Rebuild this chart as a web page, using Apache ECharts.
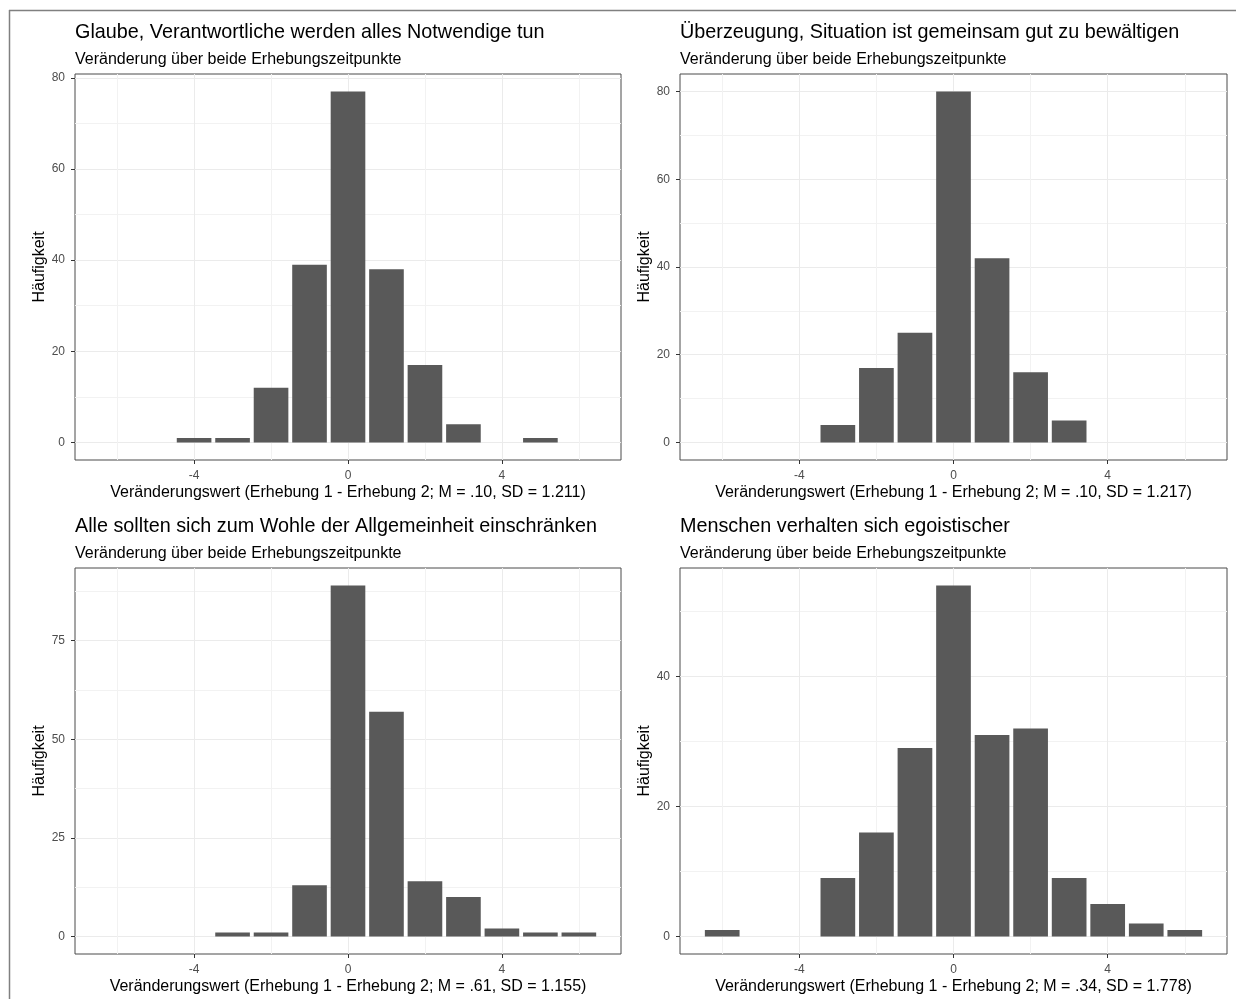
<!DOCTYPE html>
<html><head><meta charset="utf-8">
<script src="https://cdn.jsdelivr.net/npm/echarts@6/dist/echarts.min.js"></script>
<style>html,body{margin:0;padding:0;background:#fff}#chart{width:1236px;height:999px}</style>
</head><body><div id="chart"></div>
<script>
// ---- data ----
const changeValues = [-6, -5, -4, -3, -2, -1, 0, 1, 2, 3, 4, 5, 6];
const countsGlaube = [0, 0, 1, 1, 12, 39, 77, 38, 17, 4, 0, 1, 0];
const countsUeberzeugung = [0, 0, 0, 4, 17, 25, 80, 42, 16, 5, 0, 0, 0];
const countsAllgemeinheit = [0, 0, 0, 1, 1, 13, 89, 57, 14, 10, 2, 1, 1];
const countsEgoistisch = [1, 0, 0, 9, 16, 29, 54, 31, 32, 9, 5, 2, 1];

const panelTitles = [
  'Glaube, Verantwortliche werden alles Notwendige tun',
  'Überzeugung, Situation ist gemeinsam gut zu bewältigen',
  'Alle sollten sich zum Wohle der Allgemeinheit einschränken',
  'Menschen verhalten sich egoistischer'
];
const subtitleText = 'Veränderung über beide Erhebungszeitpunkte';
const xAxisTitles = [
  'Veränderungswert (Erhebung 1 - Erhebung 2; M = .10, SD = 1.211)',
  'Veränderungswert (Erhebung 1 - Erhebung 2; M = .10, SD = 1.217)',
  'Veränderungswert (Erhebung 1 - Erhebung 2; M = .61, SD = 1.155)',
  'Veränderungswert (Erhebung 1 - Erhebung 2; M = .34, SD = 1.778)'
];
const yAxisTitle = 'Häufigkeit';
const xMajorTicks = [-4, 0, 4];
const xMinorTicks = [-6, -2, 2, 6];
const yMajorTicks1 = [0, 20, 40, 60, 80];
const yMinorTicks1 = [10, 30, 50, 70];
const yMajorTicks2 = [0, 20, 40, 60, 80];
const yMinorTicks2 = [10, 30, 50, 70];
const yMajorTicks3 = [0, 25, 50, 75];
const yMinorTicks3 = [12.5, 37.5, 62.5, 87.5];
const yMajorTicks4 = [0, 20, 40];
const yMinorTicks4 = [10, 30, 50];

// ---- layout ----
const FONT = '"Liberation Sans", Arial, Helvetica, sans-serif';
const panels = [
  {left: 75, top: 74, width: 546, height: 386},
  {left: 680, top: 74, width: 547, height: 386},
  {left: 75, top: 568, width: 546, height: 386},
  {left: 680, top: 568, width: 547, height: 386}
];
const countsList = [countsGlaube, countsUeberzeugung, countsAllgemeinheit, countsEgoistisch];
const yMajorList = [yMajorTicks1, yMajorTicks2, yMajorTicks3, yMajorTicks4];
const yMinorList = [yMinorTicks1, yMinorTicks2, yMinorTicks3, yMinorTicks4];

const barHalf = 0.45;
const xLo = Math.min(...changeValues) - barHalf, xHi = Math.max(...changeValues) + barHalf;
const xPad = 0.05 * (xHi - xLo);

const grids = [], xAxes = [], yAxes = [], series = [], graphics = [];

panels.forEach((p, i) => {
  const counts = countsList[i];
  const maxC = Math.max(...counts);
  grids.push({left: p.left, top: p.top, width: p.width, height: p.height, show: true,
    borderColor: '#4a4a4a', borderWidth: 1, backgroundColor: '#ffffff', containLabel: false, outerBoundsMode: 'none'});
  // major x axis
  xAxes.push({type: 'value', gridIndex: i, min: xLo - xPad, max: xHi + xPad, position: 'bottom',
    name: xAxisTitles[i], nameLocation: 'middle', nameGap: 25,
    nameTextStyle: {fontSize: 16, color: '#000', fontFamily: FONT},
    axisLine: {show: false, onZero: false},
    axisTick: {show: true, length: 4, customValues: xMajorTicks, lineStyle: {color: '#333333', width: 1}},
    axisLabel: {customValues: xMajorTicks, margin: 10, fontSize: 12, color: '#4d4d4d', fontFamily: FONT},
    splitLine: {show: true, lineStyle: {color: '#EBEBEB', width: 1}}});
  // minor x axis (grid lines only)
  xAxes.push({type: 'value', gridIndex: i, min: xLo - xPad, max: xHi + xPad, position: 'bottom',
    axisLine: {show: false, onZero: false},
    axisTick: {show: false, customValues: xMinorTicks},
    axisLabel: {show: false},
    splitLine: {show: true, lineStyle: {color: '#F2F2F2', width: 1}}});
  // major y axis
  yAxes.push({type: 'value', gridIndex: i, min: -0.05 * maxC, max: 1.05 * maxC, position: 'left',
    name: yAxisTitle, nameLocation: 'middle', nameRotate: 90, nameGap: 25,
    nameTextStyle: {fontSize: 16, color: '#000', fontFamily: FONT},
    axisLine: {show: false, onZero: false},
    axisTick: {show: true, length: 4, customValues: yMajorList[i], lineStyle: {color: '#333333', width: 1}},
    axisLabel: {customValues: yMajorList[i], margin: 10, fontSize: 12, color: '#4d4d4d', fontFamily: FONT},
    splitLine: {show: true, lineStyle: {color: '#EBEBEB', width: 1}}});
  // minor y axis
  yAxes.push({type: 'value', gridIndex: i, min: -0.05 * maxC, max: 1.05 * maxC, position: 'left',
    axisLine: {show: false, onZero: false},
    axisTick: {show: false, customValues: yMinorList[i]},
    axisLabel: {show: false},
    splitLine: {show: true, lineStyle: {color: '#F2F2F2', width: 1}}});

  const data = [];
  changeValues.forEach((v, k) => { if (counts[k] > 0) data.push([v, counts[k]]); });
  series.push({type: 'bar', xAxisIndex: 2 * i, yAxisIndex: 2 * i, data: data, barWidth: '90%',
    itemStyle: {color: '#595959'}, silent: true});

  graphics.push({type: 'text', x: p.left, y: p.top - 41, silent: true,
    style: {text: panelTitles[i], fill: '#000', font: '19.8px ' + FONT, align: 'left', verticalAlign: 'middle'}});
  graphics.push({type: 'text', x: p.left, y: p.top - 14.8, silent: true,
    style: {text: subtitleText, fill: '#000', font: '16px ' + FONT, align: 'left', verticalAlign: 'middle'}});
});

graphics.push({type: 'line', silent: true, shape: {x1: 9, y1: 10.5, x2: 1236, y2: 10.5},
  style: {stroke: '#808080', lineWidth: 1.5}});
graphics.push({type: 'line', silent: true, shape: {x1: 9.5, y1: 10, x2: 9.5, y2: 999},
  style: {stroke: '#808080', lineWidth: 1.5}});

const chart = echarts.init(document.getElementById('chart'), null, {renderer: 'canvas'});
chart.setOption({
  animation: false,
  backgroundColor: '#ffffff',
  textStyle: {fontFamily: FONT},
  grid: grids,
  xAxis: xAxes,
  yAxis: yAxes,
  series: series,
  graphic: graphics
});
</script>
</body></html>
